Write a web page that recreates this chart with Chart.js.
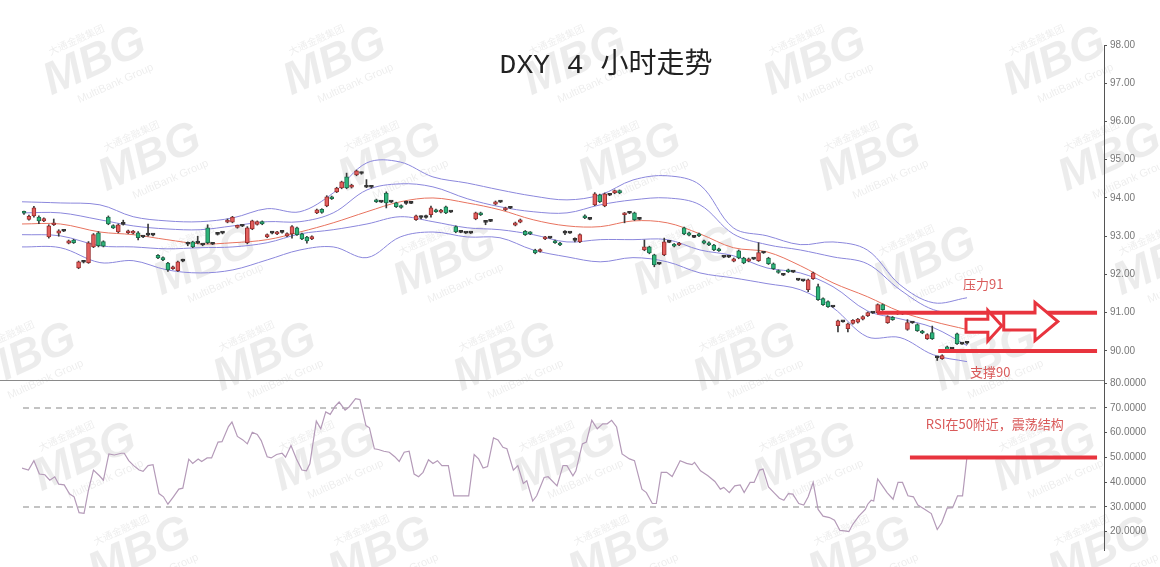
<!DOCTYPE html>
<html lang="zh-CN">
<head>
<meta charset="UTF-8" />
<title>DXY 4 小时走势</title>
<script src="https://cdn.jsdelivr.net/npm/chart.js"></script>
<style>
  html, body { margin: 0; padding: 0; background: #fff; }
  #wrap { position: relative; width: 1160px; height: 567px; }
</style>
</head>
<body>
<div id="wrap"><canvas id="dxyChart"></canvas></div>

<script>
  // 4小时K线：开 / 高 / 低 / 收（按序号 0..190）
  const opens = [93.62,93.44,93.53,93.50,93.40,92.98,93.30,93.08,93.14,92.82,92.90,92.17,92.33,92.31,92.72,93.09,92.86,93.50,93.28,93.11,
    93.32,93.09,93.08,93.09,92.99,93.04,93.04,92.50,92.44,92.30,92.15,92.10,92.36,92.80,92.85,92.83,92.78,93.22,92.80,93.06,
    93.09,93.37,93.37,93.23,93.27,92.83,93.19,93.31,93.38,92.98,93.09,93.06,93.11,93.01,93.06,93.22,93.06,92.98,92.93,93.61,
    93.70,93.79,94.03,94.16,94.26,94.55,94.28,94.60,94.65,94.29,94.29,93.95,93.90,94.13,93.90,93.87,93.80,93.87,93.87,93.43,
    93.50,93.50,93.56,93.69,93.63,93.77,93.64,93.25,93.11,93.09,93.09,93.45,93.61,93.37,93.40,93.84,93.90,93.69,93.74,93.29,
    93.37,93.13,93.10,92.64,92.60,92.93,92.96,92.88,92.82,93.09,93.09,92.90,92.85,93.52,93.45,93.82,94.08,93.79,94.08,94.13,
    94.19,93.56,93.61,93.61,93.45,92.64,92.72,92.51,92.28,92.51,92.85,92.79,92.77,93.22,93.09,92.98,93.06,92.88,92.83,92.77,
    92.67,92.46,92.46,92.35,92.62,92.43,92.35,92.41,92.36,92.57,92.43,92.28,92.10,91.99,92.12,92.07,91.86,91.84,91.60,91.89,
    91.68,91.37,91.29,91.16,90.66,90.77,90.58,90.72,90.75,90.83,90.92,91.00,91.00,91.21,90.74,90.88,90.98,91.00,90.56,90.74,
    90.69,90.52,90.32,90.48,89.83,89.80,90.11,90.06,90.45,90.19,90.20];
  const highs = [93.66,93.55,93.78,93.53,93.48,93.30,93.45,93.17,93.16,92.90,92.92,92.35,92.35,92.86,93.07,93.12,92.88,93.53,93.30,93.32,
    93.42,93.16,93.15,93.12,93.01,93.32,93.06,92.52,92.46,92.32,92.22,92.35,92.40,92.85,92.87,93.00,92.80,93.30,92.82,93.08,
    93.11,93.45,93.52,93.29,93.30,93.25,93.42,93.40,93.40,93.06,93.12,93.13,93.14,93.09,93.28,93.24,93.08,93.00,93.01,93.71,
    93.72,94.06,94.05,94.28,94.44,94.65,94.36,94.73,94.68,94.48,94.31,93.97,93.92,94.16,93.92,93.89,93.82,93.92,93.89,93.55,
    93.53,93.55,93.79,93.71,93.70,93.79,93.66,93.27,93.13,93.11,93.11,93.63,93.63,93.40,93.43,93.92,93.92,93.76,93.76,93.37,
    93.45,93.15,93.12,92.66,92.67,93.00,92.98,92.90,92.84,93.15,93.11,92.96,93.06,93.56,93.47,94.14,94.10,94.13,94.10,94.21,
    94.21,93.62,93.63,93.63,93.47,92.90,92.74,92.53,92.30,92.95,92.87,92.81,92.84,93.24,93.11,93.00,93.08,92.90,92.85,92.79,
    92.69,92.50,92.48,92.43,92.64,92.45,92.43,92.43,92.83,92.59,92.45,92.30,92.12,92.01,92.14,92.09,91.88,91.86,91.88,92.06,
    91.75,91.39,91.31,91.18,90.81,90.79,90.73,90.82,90.85,90.92,91.02,91.02,91.23,91.23,90.92,90.90,91.02,91.02,90.82,90.76,
    90.71,90.54,90.45,90.65,89.86,89.90,90.13,90.08,90.47,90.21,90.23];
  const lows = [93.57,93.42,93.50,93.33,93.38,92.95,93.28,93.00,93.12,92.80,92.81,92.15,92.30,92.29,92.70,92.72,92.72,93.30,93.20,93.09,
    93.29,93.07,93.06,92.90,92.96,93.00,93.01,92.41,92.36,92.08,92.13,92.08,92.33,92.75,92.70,92.80,92.75,92.80,92.78,93.03,
    93.06,93.35,93.35,93.21,93.25,92.80,93.17,93.29,93.30,92.96,93.06,93.04,93.08,92.99,92.95,93.02,92.91,92.82,92.91,93.59,
    93.60,93.77,93.96,94.14,94.24,94.24,94.26,94.58,94.62,94.27,94.26,93.88,93.88,93.74,93.88,93.75,93.73,93.83,93.85,93.41,
    93.45,93.47,93.50,93.62,93.61,93.59,93.62,93.09,93.09,93.07,93.07,93.43,93.54,93.30,93.38,93.82,93.88,93.67,93.72,93.27,
    93.35,93.02,93.04,92.54,92.58,92.91,92.94,92.81,92.75,93.04,93.07,92.85,92.83,93.46,93.43,93.80,93.88,93.77,94.06,94.11,
    94.11,93.35,93.59,93.41,93.43,92.62,92.54,92.20,92.26,92.49,92.83,92.72,92.75,93.04,93.01,92.96,92.99,92.80,92.75,92.62,
    92.60,92.44,92.44,92.33,92.41,92.28,92.33,92.39,92.34,92.55,92.26,92.13,92.03,91.97,92.05,92.05,91.84,91.82,91.55,91.87,
    91.32,91.19,91.14,91.14,90.50,90.75,90.50,90.70,90.73,90.81,90.90,90.98,90.98,91.06,90.72,90.80,90.95,90.95,90.54,90.72,
    90.51,90.45,90.30,90.30,89.75,89.78,90.01,90.04,90.17,90.17,90.18];
  const closes = [93.60,93.52,93.74,93.40,93.46,93.27,93.34,93.14,93.13,92.88,92.83,92.33,92.32,92.83,93.04,92.75,92.74,93.32,93.22,93.30,
    93.31,93.14,93.13,92.96,92.98,93.03,93.03,92.43,92.38,92.12,92.20,92.33,92.35,92.79,92.72,92.82,92.77,92.83,92.79,93.05,
    93.08,93.42,93.50,93.27,93.26,93.22,93.40,93.38,93.32,93.04,93.08,93.11,93.10,93.07,93.25,93.04,92.93,92.88,92.99,93.69,
    93.62,94.03,93.98,94.26,94.42,94.26,94.34,94.71,94.64,94.28,94.28,93.90,93.89,93.87,93.89,93.77,93.75,93.86,93.86,93.53,
    93.49,93.49,93.74,93.64,93.68,93.61,93.63,93.11,93.10,93.08,93.08,93.61,93.56,93.36,93.39,93.90,93.89,93.74,93.73,93.35,
    93.43,93.04,93.06,92.56,92.65,92.98,92.95,92.83,92.77,93.08,93.08,92.89,93.04,93.48,93.44,94.11,93.90,94.11,94.07,94.19,
    94.13,93.60,93.60,93.43,93.44,92.72,92.56,92.25,92.27,92.85,92.84,92.74,92.82,93.06,93.03,92.97,93.01,92.82,92.77,92.64,
    92.62,92.45,92.45,92.41,92.43,92.30,92.41,92.40,92.57,92.56,92.28,92.15,92.05,91.98,92.07,92.06,91.85,91.83,91.86,92.04,
    91.34,91.21,91.16,91.15,90.79,90.76,90.71,90.80,90.83,90.90,91.00,90.99,91.21,91.08,90.90,90.82,91.00,90.97,90.74,90.73,
    90.53,90.47,90.43,90.32,89.82,89.88,90.03,90.05,90.19,90.18,90.21];

  // 布林带（按K线序号取点）
  const bandIdx = [-0.4,7.3,15.3,22,28.8,35.5,42.1,49,55.6,62.3,69.1,75.8,82.4,89.3,95.9,102.6,109.4,116.1,122.7,129.6,136.2,142.9,149.7,156.4,163,169.9,176.5,183.2,190];
  const bandUpper2 = [93.90,93.87,93.82,93.51,93.40,93.38,93.48,93.72,93.64,94.13,94.92,94.94,94.55,94.39,94.21,94.05,93.95,94.08,94.47,94.58,94.34,93.22,93.01,92.78,92.85,92.64,91.73,91.26,91.39];
  const bandUpper1 = [93.61,93.61,93.43,93.27,93.19,93.17,93.27,93.38,93.38,93.61,94.21,94.37,94.29,93.98,93.77,93.64,93.61,93.82,93.95,94.00,93.82,93.06,92.78,92.64,92.46,92.28,91.60,91.08,90.97];
  const bandMid = [93.32,93.32,93.11,93.04,92.91,92.80,92.83,92.91,93.11,93.35,93.64,93.90,94.00,93.87,93.69,93.43,93.27,93.25,93.40,93.35,93.06,92.70,92.59,92.23,91.78,91.42,91.03,90.77,90.56];
  const bandLower1 = [93.04,93.01,92.75,92.72,92.67,92.70,92.72,92.83,93.06,93.17,93.32,93.51,93.38,93.22,93.17,93.04,92.85,92.91,92.91,92.91,92.64,92.49,92.17,92.04,91.68,91.05,90.84,90.61,90.14];
  const bandLower2 = [92.72,92.70,92.31,92.36,92.12,92.04,92.12,92.38,92.64,92.72,92.44,92.98,93.11,92.98,92.96,92.64,92.46,92.33,92.44,92.33,92.04,91.91,91.76,91.60,91.13,90.37,90.35,89.90,89.72];

  // RSI 折线转折点
  const rsiIdx = [-0.4,0.9,2.0,3.1,4.2,5.2,6.2,7.0,8.1,9.2,10.1,11.1,12.1,13.0,14.0,15.2,16.0,17.1,18.2,19.6,
    20.2,21.1,22.1,23.2,24.0,25.0,26.0,27.2,28.1,29.0,30.1,31.2,32.0,33.2,34.0,35.1,35.8,36.9,37.8,39.1,
    39.9,41.2,41.9,43.0,44.1,45.0,46.0,47.0,47.8,49.0,49.8,50.9,52.0,52.7,53.8,54.9,56.0,56.9,57.6,58.9,
    59.8,60.8,61.7,62.7,63.5,64.7,65.5,66.8,67.7,68.9,69.6,70.6,71.4,72.5,73.6,74.7,75.6,76.6,77.6,78.6,
    79.5,80.4,81.5,82.4,83.3,84.2,85.5,86.6,88.0,89.6,90.7,91.6,92.5,93.4,94.6,95.5,96.5,97.3,98.6,99.5,
    100.6,101.3,102.5,103.3,104.8,105.6,107.4,108.6,109.4,110.6,111.2,112.5,113.3,114.4,115.5,116.6,117.5,118.4,119.4,120.5,
    122.0,123.0,124.5,125.4,126.6,127.4,128.4,129.5,130.6,132.2,133.5,134.6,135.1,136.3,137.8,139.2,140.3,141.0,142.1,143.2,
    144.3,145.1,146.3,147.1,148.2,148.9,150.0,151.1,152.2,153.1,154.0,154.9,156.1,157.1,158.0,159.0,160.0,161.0,162.3,163.3,
    164.4,165.7,166.2,166.9,168.2,169.5,170.0,170.7,171.2,172.0,173.1,173.9,175.1,176.1,177.0,178.1,179.2,180.1,181.3,182.8,
    184.0,184.9,186.0,187.1,188.1,189.1,190.0];
  const rsiVals = [45.7,44.9,48.7,43.3,43.0,40.8,42.2,39.2,38.9,35.2,34.1,27.7,27.4,36.9,44.9,42.6,40.8,51.4,51.0,51.7,
    51.7,48.7,46.7,44.9,44.4,46.7,47.1,35.4,34.1,31.1,34.1,37.2,37.6,49.3,47.6,49.4,48.4,49.8,49.8,56.2,
    56.4,62.5,64.3,58.5,57.1,55.5,60.2,59.3,56.8,50.3,49.8,51.2,51.7,50.1,54.8,49.4,44.9,44.6,47.4,64.7,
    61.6,68.4,67.4,70.7,72.4,69.1,70.4,73.8,73.4,62.9,62.0,53.5,53.2,52.5,52.1,50.3,48.4,52.1,52.5,43.3,
    42.2,44.0,49.1,47.6,48.7,46.7,46.7,34.5,34.5,34.5,51.2,49.4,45.7,46.3,57.9,57.1,54.1,53.5,44.9,46.7,
    39.5,40.6,32.4,34.5,41.9,42.2,38.5,46.7,46.7,42.6,44.6,55.5,56.2,65.0,61.6,63.6,63.6,65.0,62.3,51.4,
    49.4,48.7,37.2,35.8,31.4,31.4,44.0,44.0,42.3,48.7,47.6,47.1,48.0,44.6,42.6,40.3,37.2,37.9,35.8,38.5,
    38.9,35.8,39.9,39.9,44.9,45.3,38.1,35.8,33.5,32.7,35.4,35.2,31.4,30.8,34.1,39.9,29.0,26.3,25.7,24.6,
    20.5,20.2,20.0,22.7,26.3,29.0,31.1,32.7,32.4,41.3,38.1,35.8,33.1,39.9,39.9,34.5,34.1,30.8,29.3,27.3,
    20.9,23.6,29.5,29.7,34.5,34.5,50.3];

  // 坐标刻度
  const priceTicks = [90, 91, 92, 93, 94, 95, 96, 97, 98];
  const rsiTicks = [20, 30, 40, 50, 60, 70, 80];
  const rsiGuides = [70, 30];

  // 标注：压力 / 支撑 / RSI 中轴
  const resistance = 91;
  const support = 90;
  const rsiMid = 50;

  const RED = '#e35f5d', RED_EDGE = '#9a3030';
  const GREEN = '#2db57b', GREEN_EDGE = '#1c6e4b';
  const DOJI = '#333333';
  const MARK = '#e8343e';

  const note = { // 注释的摆放（序号 / 数值）
    resFrom: 171.9, supFrom: 184.2, rsiFrom: 178.5, lineTo: 216.2,
    guideFrom: -0.2, guideTo: 216.8,
    arrows: [
      { x0: 189.8, xh: 194.2, x1: 197.0, y: 90.66, shaft: 0.17, head: 0.4 },
      { x0: 197.4, xh: 203.7, x1: 208.3, y: 90.77, shaft: 0.22, head: 0.5 }
    ],
    texts: [
      { text: '压力91', x: 189.2, y: 91.76, axis: 'yP' },
      { text: '支撑90', x: 190.6, y: 89.46, axis: 'yP' },
      { text: 'RSI在50附近，震荡结构', x: 181.7, y: 63.5, axis: 'yR' }
    ]
  };

  // 水印平铺（行纵坐标 / 每行起点）
  const wmRows = [62, 158, 262, 358, 458, 552];
  const wmStart = [95, 150, 205, 25, 85, 140];

  const bodyData = opens.map((o, i) => ({ x: i, y: [o, closes[i]] }));
  const wickData = opens.map((o, i) => ({ x: i, y: [lows[i], highs[i]] }));
  const bodyFill = opens.map((o, i) => closes[i] - o > 0.015 ? RED : (o - closes[i] > 0.015 ? GREEN : DOJI));
  const bodyEdge = opens.map((o, i) => closes[i] - o > 0.015 ? RED_EDGE : (o - closes[i] > 0.015 ? GREEN_EDGE : DOJI));
  const band = arr => bandIdx.map((x, i) => ({ x, y: arr[i] }));
  const flat = (from, to, y) => [{ x: from, y }, { x: to, y }];

  function bandSet(label, arr, color) {
    return { type: 'line', label, data: band(arr), yAxisID: 'yP', borderColor: color, borderWidth: 1,
      pointRadius: 0, tension: 0.35, order: 5 };
  }

  const overlay = {
    id: 'overlay',
    beforeDraw(chart) {
      const c = chart.ctx;
      c.save();
      wmRows.forEach((y, r) => {
        for (let x = wmStart[r]; x < 1200; x += 240) {
          c.save();
          c.translate(x, y);
          c.rotate(-0.42);
          c.textAlign = 'center';
          c.textBaseline = 'middle';
          c.fillStyle = 'rgba(0,0,0,0.075)';
          c.font = 'italic bold 46px "Liberation Sans", Arial, sans-serif';
          c.fillText('MBG', 0, 0);
          c.font = '11px "Liberation Sans", Arial, sans-serif';
          c.fillText('MultiBank Group', 10, 28);
          c.font = '10px "Noto Sans CJK SC", sans-serif';
          c.fillText('大通金融集团', -8, -28);
          c.restore();
        }
      });
      c.restore();
    },
    beforeDatasetsDraw(chart) {
      const c = chart.ctx, yR = chart.scales.yR;
      c.save();
      c.strokeStyle = '#8a8a8a';
      c.lineWidth = 1;
      c.beginPath();
      c.moveTo(0, Math.round(yR.top) + 0.5);
      c.lineTo(chart.chartArea.right, Math.round(yR.top) + 0.5);
      c.stroke();
      c.restore();
    },
    afterDatasetsDraw(chart) {
      const c = chart.ctx, x = chart.scales.x, yP = chart.scales.yP;
      c.save();
      // 空心箭头
      c.strokeStyle = MARK;
      c.fillStyle = '#fff';
      c.lineWidth = 3;
      c.lineJoin = 'miter';
      note.arrows.forEach(a => {
        const px = v => x.getPixelForValue(v), py = v => yP.getPixelForValue(v);
        c.beginPath();
        c.moveTo(px(a.x0), py(a.y + a.shaft));
        c.lineTo(px(a.xh), py(a.y + a.shaft));
        c.lineTo(px(a.xh), py(a.y + a.head));
        c.lineTo(px(a.x1), py(a.y));
        c.lineTo(px(a.xh), py(a.y - a.head));
        c.lineTo(px(a.xh), py(a.y - a.shaft));
        c.lineTo(px(a.x0), py(a.y - a.shaft));
        c.closePath();
        c.fill();
        c.stroke();
      });
      // 文字
      c.fillStyle = '#d95a5a';
      c.font = '13px "Noto Sans CJK SC", "Liberation Sans", sans-serif';
      c.textBaseline = 'middle';
      c.textAlign = 'left';
      note.texts.forEach(t => {
        c.fillText(t.text, x.getPixelForValue(t.x), chart.scales[t.axis].getPixelForValue(t.y));
      });
      // 标题
      c.fillStyle = '#222';
      c.font = '28px "Liberation Mono", "Noto Sans CJK SC", monospace';
      c.textAlign = 'center';
      c.fillText('DXY 4 小时走势', 606, 66);
      c.restore();
    }
  };

  const tickFont = { family: '"Liberation Sans", Arial, sans-serif', size: 10 };

  new Chart(document.getElementById('dxyChart'), {
    type: 'bar',
    data: {
      datasets: [
        { type: 'line', data: flat(note.resFrom, note.lineTo, resistance), yAxisID: 'yP', borderColor: MARK,
          borderWidth: 4, pointRadius: 0, borderCapStyle: 'butt', order: 0 },
        { type: 'line', data: flat(note.supFrom, note.lineTo, support), yAxisID: 'yP', borderColor: MARK,
          borderWidth: 4, pointRadius: 0, borderCapStyle: 'butt', order: 0 },
        { type: 'line', data: flat(note.rsiFrom, note.lineTo, rsiMid), yAxisID: 'yR', borderColor: MARK,
          borderWidth: 4, pointRadius: 0, borderCapStyle: 'butt', order: 0 },
        { label: 'body', data: bodyData, yAxisID: 'yP', backgroundColor: bodyFill, borderColor: bodyEdge,
          borderWidth: 1, borderSkipped: false, barThickness: 4, minBarLength: 2, grouped: false, order: 1 },
        { label: 'wick', data: wickData, yAxisID: 'yP', backgroundColor: '#3a3a3a',
          barThickness: 1, grouped: false, order: 2 },
        bandSet('upper2', bandUpper2, '#8b87dc'),
        bandSet('upper1', bandUpper1, '#8b87dc'),
        bandSet('mid', bandMid, '#e8735f'),
        bandSet('lower1', bandLower1, '#8b87dc'),
        bandSet('lower2', bandLower2, '#8b87dc'),
        ...rsiGuides.map(v => ({ type: 'line', data: flat(note.guideFrom, note.guideTo, v), yAxisID: 'yR',
          borderColor: '#b0b0b0', borderWidth: 1.5, borderDash: [6, 5], pointRadius: 0, order: 6 })),
        { type: 'line', label: 'RSI', data: rsiIdx.map((x, i) => ({ x, y: rsiVals[i] })), yAxisID: 'yR',
          borderColor: '#b49ab8', borderWidth: 1.2, pointRadius: 0, tension: 0, order: 4 }
      ]
    },
    options: {
      responsive: true,
      maintainAspectRatio: false,
      animation: false,
      layout: { padding: { left: 22, top: 45, bottom: 17, right: 0 } },
      plugins: { legend: { display: false }, tooltip: { enabled: false } },
      scales: {
        x: { type: 'linear', min: -0.4, max: 217.6, display: false, offset: false },
        yP: {
          type: 'linear', position: 'right', stack: 'panes', stackWeight: 335, min: 89.24, max: 98,
          afterBuildTicks: s => { s.ticks = priceTicks.map(v => ({ value: v })); },
          afterFit: s => { s.width = 56; },
          border: { display: true, color: '#555' },
          grid: { drawOnChartArea: false, tickLength: 3, color: '#555' },
          ticks: { color: '#777', font: tickFont, padding: 3, autoSkip: false, callback: v => v.toFixed(2) }
        },
        yR: {
          type: 'linear', position: 'right', stack: 'panes', stackWeight: 170, min: 12.6, max: 81.3,
          afterBuildTicks: s => { s.ticks = rsiTicks.map(v => ({ value: v })); },
          afterFit: s => { s.width = 56; },
          border: { display: true, color: '#555' },
          grid: { drawOnChartArea: false, tickLength: 3, color: '#555' },
          ticks: { color: '#777', font: tickFont, padding: 3, autoSkip: false, callback: v => v.toFixed(4) }
        }
      }
    },
    plugins: [overlay]
  });
</script>
</body>
</html>
